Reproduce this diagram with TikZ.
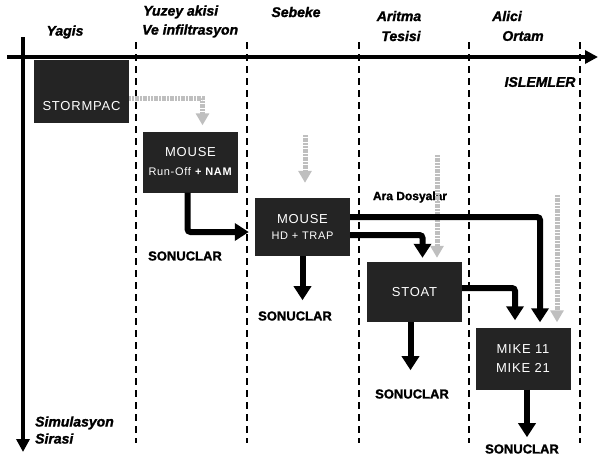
\documentclass[tikz,border=0pt]{standalone}
\usepackage{fontspec}
\setmainfont{Liberation Sans}
\newfontfamily\mdlfont[LetterSpace=6]{Liberation Sans}
\newfontfamily\heavyfont{Liberation Sans}[BoldFeatures={FakeBold=1.5},
  BoldItalicFeatures={FakeBold=1.5}]
\usepackage{tikz}
\usetikzlibrary{arrows.meta,positioning,calc}

\begin{document}
\begin{tikzpicture}[
      x=1pt, y=-1pt,
      every node/.style={inner sep=0pt, anchor=center},
      header/.style={font=\heavyfont\fontsize{14}{19}\selectfont\bfseries\itshape},
      result/.style={font=\heavyfont\fontsize{13}{15}\selectfont\bfseries},
      boxtext/.style={text=white, font=\mdlfont\fontsize{13}{19}\selectfont},
      modelbox/.style={boxtext, fill=black!86, minimum width=95pt, align=center},
      axisline/.style={line width=3.5pt, -{Triangle[length=13pt,width=13pt]}},
      laneline/.style={line width=2.2pt, dash pattern=on 7pt off 5pt},
      flow/.style={line width=6pt, rounded corners=3pt, -{Triangle[length=14pt,width=17pt]}},
      dataflow/.style={draw=gray!50, line width=5pt, dash pattern=on 2pt off 0.7pt,
                       -{Triangle[length=12pt,width=13pt]}}
    ]
  \useasboundingbox (0,0) rectangle (600,459);

  % --- Eksenler ---
  \coordinate (vTop)   at (23,37);
  \coordinate (vEnd)   at (23,452);
  \coordinate (hStart) at (7,57);
  \coordinate (hEnd)   at (598,57);
  \draw[axisline] (vTop) -- (vEnd);
  \draw[axisline] (hStart) -- (hEnd);

  % --- Kesikli ayirma cizgileri ---
  \foreach \x in {136,247,359,469,580} {\draw[laneline] (\x,42) -- (\x,443);}

  % --- Basliklar ---
  \node[header] (hYagis)  at (65,32)  {Yagis};
  \node[header, anchor=west] (hYuzey)  at (143,12) {Yuzey akisi};
  \node[header, anchor=west] (hInfil)  at (142,31) {Ve infiltrasyon};
  \node[header] (hSebeke) at (296,12) {Sebeke};
  \node[header] (hAritma) at (399,16) {Aritma};
  \node[header] (hTesisi) at (401,36) {Tesisi};
  \node[header] (hAlici)  at (507,16) {Alici};
  \node[header] (hOrtam)  at (523,36) {Ortam};
  \node[header] (hIslem)  at (540,82) {ISLEMLER};
  \node[header, anchor=west, align=left] (hSimul) at (35,430) {Simulasyon\\[-2pt]Sirasi};

  % --- Modeller ---
  \node[modelbox, minimum height=63pt,
        label={[boxtext, label distance=-22pt]south:STORMPAC}] (stormpac) at (81.5,91.5) {};
  \node[modelbox, minimum height=61pt] (mouseNam) at (190.5,162)
        {MOUSE\\{\fontsize{11}{19}\selectfont Run-Off \textbf{+ NAM}}};
  \node[modelbox, minimum height=58pt] (mouseHd) at (302.5,227)
        {MOUSE\\[-3pt]{\fontsize{11}{19}\selectfont HD + TRAP}};
  \node[modelbox, minimum height=60pt] (stoat) at (414.5,292) {STOAT};
  \node[modelbox, minimum height=62pt] (mike) at (523,358.5) {MIKE 11\\MIKE 21};

  % --- Sonuclar ---
  \node[result] (res1) at (185,256) {SONUCLAR};
  \node[result] (res2) at (295,316) {SONUCLAR};
  \node[result] (res3) at (412,394) {SONUCLAR};
  \node[result] (res4) at (522,449) {SONUCLAR};
  \node[font=\heavyfont\fontsize{12}{14}\selectfont\bfseries] (araDos) at (410,197) {Ara Dosyalar};

  % --- Gri veri oklari ---
  \coordinate (g1) at (305,135);
  \coordinate (g2) at (437,155);
  \coordinate (g3) at (557,195);
  \draw[dataflow, shorten >=6pt] ([yshift=-7pt]stormpac.east) -| ([xshift=12pt]mouseNam.north);
  \draw[dataflow, shorten >=15pt] (g1) -- (g1 |- mouseHd.north);
  \draw[dataflow, shorten >=4pt] (g2) -- (g2 |- stoat.north);
  \draw[dataflow, shorten >=5pt] (g3) -- (g3 |- mike.north);

  % --- Siyah akis oklari ---
  \draw[flow, shorten >=6pt] ([xshift=-3pt]mouseNam.south) |- ([yshift=-5pt]mouseHd.west);
  \draw[flow, shorten >=5pt] ([yshift=10pt]mouseHd.east) -| ([xshift=17pt]mike.north);
  \draw[flow, shorten >=4pt] ([yshift=-8pt]mouseHd.east) -| ([xshift=8pt]stoat.north);
  \draw[flow, shorten >=7pt] ([yshift=4pt]stoat.east) -| ([xshift=-8pt]mike.north);
  \draw[flow, shorten >=11pt] (mouseHd.south) -- (mouseHd.south |- res2.north);
  \draw[flow, shorten >=19pt] ([xshift=-4pt]stoat.south) -- ([xshift=-4pt]stoat.south |- res3.north);
  \draw[flow, shorten >=7pt] ([xshift=4pt]mike.south) -- ([xshift=4pt]mike.south |- res4.north);
\end{tikzpicture}
\end{document}
